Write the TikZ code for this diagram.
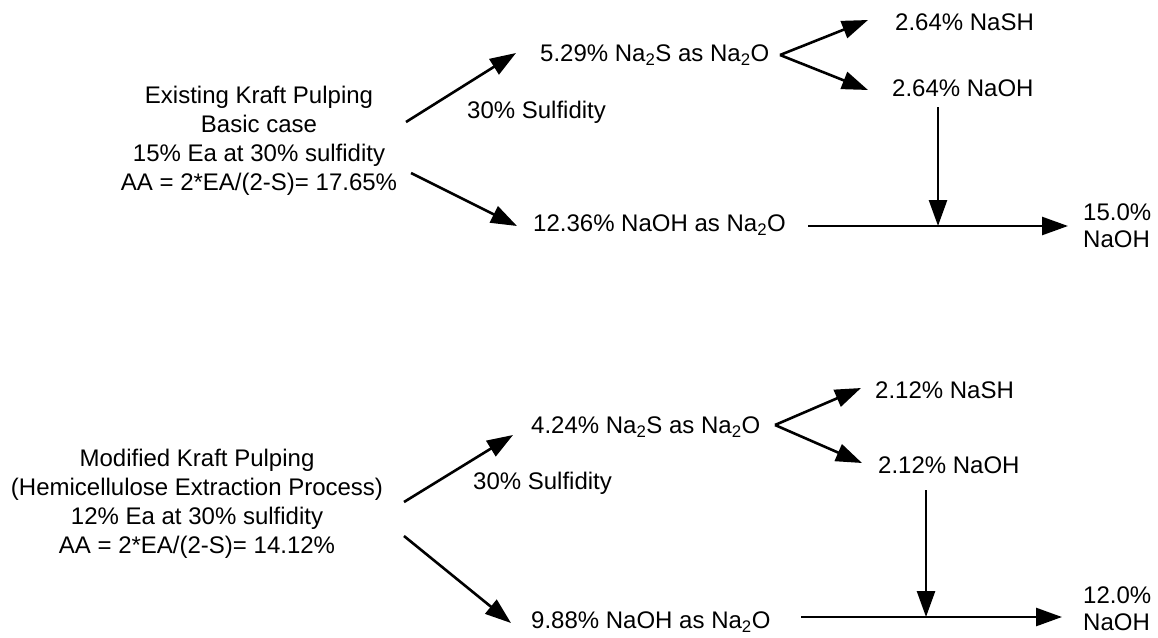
\documentclass[tikz,border=0pt]{standalone}
\usepackage{fontspec}
\setmainfont{Liberation Sans}
\usetikzlibrary{arrows.meta}
\begin{document}
\begin{tikzpicture}[x=1pt,y=-1pt,
  every node/.style={font=\fontsize{24}{29}\selectfont, inner sep=0pt},
  lbl/.style={anchor=west},
  total/.style={anchor=west, align=left, font=\fontsize{24}{27}\selectfont},
  flow/.style={line width=2.6pt, -{Triangle[length=26pt,width=18pt]}}]
\useasboundingbox[fill=white] (0,0) rectangle (1158,637);

% ---------- existing kraft pulping ----------
\node[align=center] (case1) at (259,141)
  {Existing Kraft Pulping\\Basic case\\15\% Ea at 30\% sulfidity\\AA = 2*EA/(2-S)= 17.65\%};
\node[lbl] (nas1)  at (540,55)  {5.29\% Na\textsubscript{2}S as Na\textsubscript{2}O};
\node[lbl] (sulf1) at (467,112) {30\% Sulfidity};
\node[lbl] (aoh1)  at (533,225) {12.36\% NaOH as Na\textsubscript{2}O};
\node[lbl] (nash1) at (895,22)  {2.64\% NaSH};
\node[lbl] (boh1)  at (892,88)  {2.64\% NaOH};
\node[total] (tot1) at (1083,226) {15.0\%\\NaOH};

\coordinate (c1up)  at (406,122);
\coordinate (c1upt) at (516,53);
\coordinate (c1dn)  at (411,173);
\coordinate (c1dnt) at (517,226);
\coordinate (s1)    at (780,55);
\coordinate (s1a)   at (868,20);
\coordinate (s1b)   at (868,90);
\coordinate (v1s)   at (938,107);
\coordinate (j1)    at (938,226);
\coordinate (h1s)   at (808,226);
\coordinate (h1e)   at (1068,226);

\draw[flow] (c1up) -- (c1upt);
\draw[flow] (c1dn) -- (c1dnt);
\draw[flow] (s1) -- (s1a);
\draw[flow] (s1) -- (s1b);
\draw[flow] (v1s) -- (j1);
\draw[flow] (h1s) -- (h1e);

% ---------- modified kraft pulping ----------
\node[align=center] (case2) at (197,504)
  {Modified Kraft Pulping\\(Hemicellulose Extraction Process)\\12\% Ea at 30\% sulfidity\\AA = 2*EA/(2-S)= 14.12\%};
\node[lbl] (nas2)  at (531,427) {4.24\% Na\textsubscript{2}S as Na\textsubscript{2}O};
\node[lbl] (sulf2) at (473,483) {30\% Sulfidity};
\node[lbl] (aoh2)  at (531,622) {9.88\% NaOH as Na\textsubscript{2}O};
\node[lbl] (nash2) at (875,390) {2.12\% NaSH};
\node[lbl] (boh2)  at (878,465) {2.12\% NaOH};
\node[total] (tot2) at (1083,609) {12.0\%\\NaOH};

\coordinate (c2up)  at (404,502);
\coordinate (c2upt) at (513,435);
\coordinate (c2dn)  at (404,536);
\coordinate (c2dnt) at (511,623);
\coordinate (s2)    at (775,425);
\coordinate (s2a)   at (861,388);
\coordinate (s2b)   at (862,463);
\coordinate (v2s)   at (926,490);
\coordinate (j2)    at (926,617);
\coordinate (h2s)   at (801,617);
\coordinate (h2e)   at (1062,617);

\draw[flow] (c2up) -- (c2upt);
\draw[flow] (c2dn) -- (c2dnt);
\draw[flow] (s2) -- (s2a);
\draw[flow] (s2) -- (s2b);
\draw[flow] (v2s) -- (j2);
\draw[flow] (h2s) -- (h2e);
\end{tikzpicture}
\end{document}
